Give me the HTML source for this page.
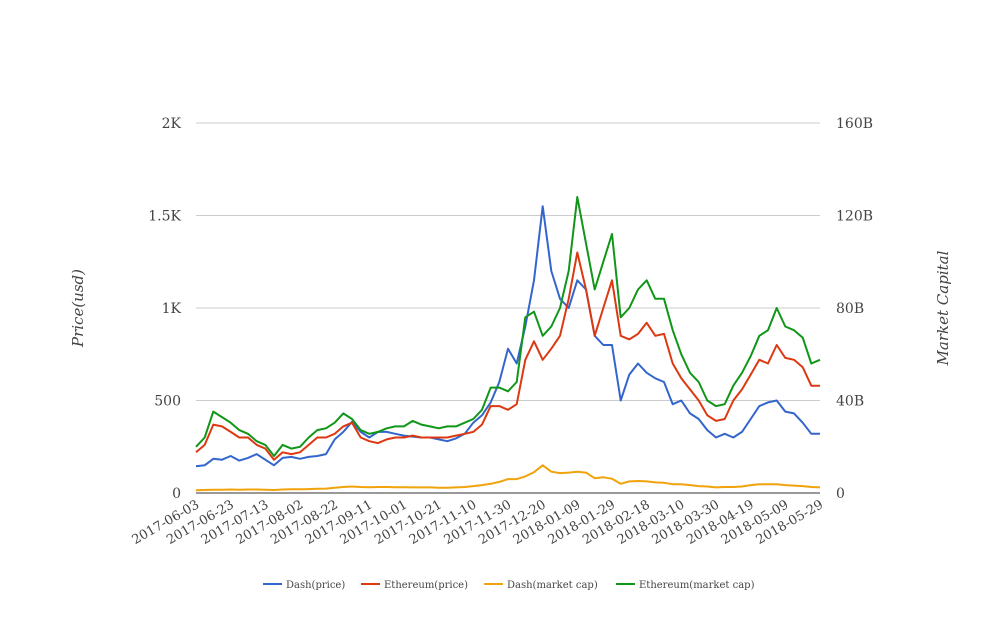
<!DOCTYPE html>
<html><head><meta charset="utf-8"><style>
body{margin:0;background:#fff;}
svg text{font-family:"DejaVu Serif","Liberation Serif",serif;fill:#444;}
</style></head><body>
<svg width="1008" height="616" id="chart"></svg>
<script>
const days=[0,5,10,15,20,25,30,35,40,45,50,55,60,65,70,75,80,85,90,95,100,105,110,115,120,125,130,135,140,145,150,155,160,165,170,175,180,185,190,195,200,205,210,215,220,225,230,235,240,245,250,255,260,265,270,275,280,285,290,295,300,305,310,315,320,325,330,335,340,345,350,355,360];
const dashPrice=[145,150,185,180,200,175,190,210,180,150,190,195,185,195,200,210,290,330,385,330,300,330,330,320,310,305,300,300,290,280,295,320,380,420,490,600,780,700,900,1150,1550,1200,1050,1000,1150,1100,850,800,800,500,640,700,650,620,600,480,500,430,400,340,300,320,300,330,400,470,490,500,440,430,380,320,320];
const ethPrice=[220,260,370,360,330,300,300,260,240,180,220,210,220,260,300,300,320,360,380,300,280,270,290,300,300,310,300,300,300,300,310,320,330,370,470,470,450,480,720,820,720,780,850,1050,1300,1100,850,1000,1150,850,830,860,920,850,860,700,620,560,500,420,390,400,500,560,640,720,700,800,730,720,680,580,580];
const dashCap=[1.2,1.3,1.4,1.4,1.5,1.4,1.5,1.5,1.4,1.3,1.5,1.6,1.6,1.7,1.8,1.9,2.3,2.6,2.8,2.6,2.5,2.6,2.6,2.5,2.5,2.4,2.4,2.4,2.3,2.3,2.4,2.6,3.0,3.4,4.0,4.8,6.0,6.0,7.2,9.0,12.0,9.2,8.6,8.8,9.2,8.8,6.4,6.8,6.2,4.0,5.0,5.2,5.0,4.6,4.4,3.8,3.8,3.4,3.0,2.8,2.4,2.6,2.6,2.8,3.4,3.8,3.8,3.8,3.4,3.2,3.0,2.6,2.4];
const ethCap=[20,24,35.2,32.8,30.4,27.2,25.6,22.4,20.8,16,20.8,19.2,20,24,27.2,28,30.4,34.4,32,27.2,25.6,26.4,28,28.8,28.8,31.2,29.6,28.8,28,28.8,28.8,30.4,32,36,45.6,45.6,44,48,76,78.4,68,72,80,96,128,108,88,100,112,76,80,88,92,84,84,70.4,60,52,48,40,37.6,38.4,46.4,52,59.2,68,70.4,80,72,70.4,67.2,56,57.6];
const leftTicks=["0","500","1K","1.5K","2K"];
const rightTicks=["0","40B","80B","120B","160B"];
const dateLabels=["2017-06-03","2017-06-23","2017-07-13","2017-08-02","2017-08-22","2017-09-11","2017-10-01","2017-10-21","2017-11-10","2017-11-30","2017-12-20","2018-01-09","2018-01-29","2018-02-18","2018-03-10","2018-03-30","2018-04-19","2018-05-09","2018-05-29"];
const X0=196,X1=820,Y0=493,Y1=123;
const xs=d=>X0+(X1-X0)*d/360;
const yL=v=>Y0-(Y0-Y1)*v/2000;
const yR=v=>Y0-(Y0-Y1)*v/160;
const svg=document.getElementById('chart');const NS="http://www.w3.org/2000/svg";
function mk(t,a,txt){const e=document.createElementNS(NS,t);for(const k in a)e.setAttribute(k,a[k]);if(txt!==undefined)e.textContent=txt;svg.appendChild(e);return e;}
leftTicks.forEach((t,i)=>{const y=Y0-(Y0-Y1)*i/4;
 if(i>0){const g=mk('line',{x1:X0,x2:X1,y1:y,y2:y,stroke:'#ccc','stroke-width':1});}
 const a=mk('text',{x:181,y:y+5,'text-anchor':'end','font-size':14},t);
 const b=mk('text',{x:836,y:y+5,'text-anchor':'start','font-size':14},rightTicks[i]);
});
const ax=mk('line',{x1:X0,x2:X1,y1:Y0,y2:Y0,stroke:'#333','stroke-width':1});
dateLabels.forEach((t,i)=>{const x=xs(i*20);const e=mk('text',{x:x+4,y:Y0+14,'text-anchor':'end','font-size':13,transform:`rotate(-30 ${x+4} ${Y0+14})`},t);});
const yl=mk('text',{x:83,y:308,'text-anchor':'middle','font-size':15,'font-style':'italic',transform:'rotate(-90 83 308)'},'Price(usd)');
const yr=mk('text',{x:948,y:308,'text-anchor':'middle','font-size':15,'font-style':'italic',transform:'rotate(-90 948 308)'},'Market Capital');
function line(vals,yf,col,name){const p=vals.map((v,i)=>(i?'L':'M')+xs(days[i]).toFixed(1)+','+yf(v).toFixed(1)).join('');const e=mk('path',{d:p,fill:'none',stroke:col,'stroke-width':2,'stroke-linejoin':'round'});}
line(dashCap,yR,'#f0a30a','dash-market-cap-line');
line(dashPrice,yL,'#3366cc','dash-price-line');
line(ethPrice,yL,'#dc3912','ethereum-price-line');
line(ethCap,yR,'#109618','ethereum-market-cap-line');
const leg=[["Dash(price)","#3366cc",263],["Ethereum(price)","#dc3912",361],["Dash(market cap)","#f0a30a",484],["Ethereum(market cap)","#109618",616]];
leg.forEach(([t,c,x])=>{const l=mk('line',{x1:x,x2:x+19,y1:584,y2:584,stroke:c,'stroke-width':2});
 const e=mk('text',{x:x+23,y:588,'font-size':10},t);});
</script>
</body></html>
